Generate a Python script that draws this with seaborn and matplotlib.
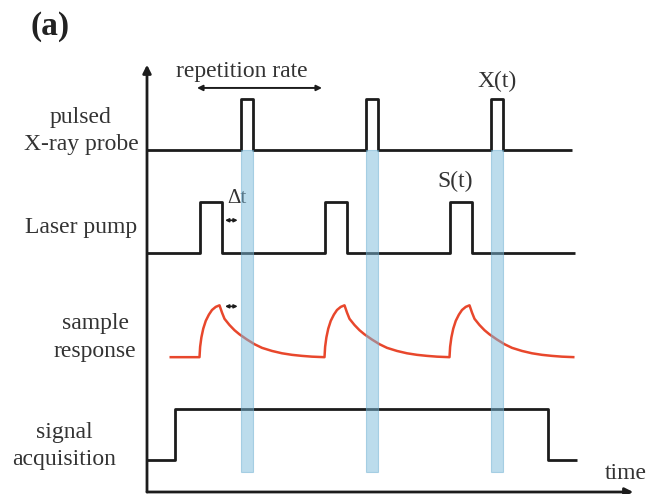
import matplotlib
matplotlib.use("Agg")
import matplotlib.pyplot as plt
import pandas as pd
import seaborn as sns

# ---- timing of the pulse trains (arbitrary time units, period = 10) ----
probe_starts = [7.5, 17.5, 27.5]      # X-ray probe pulse onsets
probe_width = 1.0
probe_end = 34.0

pump_starts = [4.2, 14.2, 24.2]       # laser pump pulse onsets
pump_width = 1.8
pump_end = 34.2

# sample response for one cycle: time after pump onset, relative amplitude
resp_offsets = [0.0, 0.05, 0.15, 0.30, 0.50, 0.75, 1.00, 1.30, 1.60,
                1.80, 2.00, 2.40, 2.80, 3.20, 3.80, 4.40, 5.00, 5.80,
                6.60, 7.40, 8.20, 9.00, 10.0]
resp_levels = [0.0, 0.20, 0.38, 0.55, 0.70, 0.82, 0.91, 0.97, 1.00,
               0.86, 0.74, 0.62, 0.52, 0.44, 0.34, 0.25, 0.18, 0.12,
               0.075, 0.045, 0.025, 0.01, 0.0]
resp_start = 1.8

# detector gate
acq_on, acq_off, acq_end = 2.2, 32.1, 34.4

# lanes (bottom to top) and their resting levels
lane_labels = ["signal\nacquisition", "sample\nresponse", "Laser pump", "pulsed\nX-ray probe"]
lane_base = [0.31, 1.30, 2.30, 3.30]
pulse_height = 0.50

# repetition period marker and time span of the axes
rep_from, rep_to = 4.0, 14.0
band_bottom = 0.19
y_axis_top = 4.12
x_axis_end = 38.9

BLACK = "#1c1c1c"
RED = "#e8472c"
BLUE = "#7bbadb"
TEXT = "#333333"


def pulse_train(starts, width, end, base, height):
    xs, ys = [0.0], [base]
    for s in starts:
        xs += [s, s, s + width, s + width]
        ys += [base, base + height, base + height, base]
    xs.append(end)
    ys.append(base)
    return pd.DataFrame({"t": xs, "level": ys})


def response_trace(starts, base, height):
    xs, ys = [resp_start], [base]
    for s in starts:
        for dt, v in zip(resp_offsets, resp_levels):
            xs.append(s + dt)
            ys.append(base + height * v)
    return pd.DataFrame({"t": xs, "level": ys})


def gate_trace(base, height):
    xs = [0.0, acq_on, acq_on, acq_off, acq_off, acq_end]
    ys = [base, base, base + height, base + height, base, base]
    return pd.DataFrame({"t": xs, "level": ys})


sns.set_style("white")
plt.rcParams["font.family"] = ["Liberation Serif", "DejaVu Serif"]

fig = plt.figure(figsize=(6.48, 4.94), dpi=100)
ax = fig.add_axes([0, 0, 1, 1])
ax.set_xlim(-11.76, 40.08)
ax.set_ylim(-0.0193, 4.744)
ax.axis("off")

acq_df = gate_trace(lane_base[0], pulse_height - 0.01)
resp_df = response_trace(pump_starts, lane_base[1], pulse_height)
pump_df = pulse_train(pump_starts, pump_width, pump_end, lane_base[2], pulse_height)
probe_df = pulse_train(probe_starts, probe_width, probe_end, lane_base[3], pulse_height - 0.01)

line_kw = dict(x="t", y="level", sort=False, estimator=None, ax=ax, legend=False)
for df in (acq_df, pump_df, probe_df):
    sns.lineplot(data=df, color=BLACK, lw=2.0, **line_kw)
sns.lineplot(data=resp_df, color=RED, lw=1.8, **line_kw)
for ln in ax.lines:
    ln.set_solid_joinstyle("round")
    ln.set_solid_capstyle("butt")

# probe windows carried down through all lanes
ax.bar(probe_starts, lane_base[3] - band_bottom, bottom=band_bottom,
       width=probe_width, align="edge", color=BLUE, alpha=0.5,
       edgecolor="#6fb0d2", linewidth=0.8, zorder=5)

# axes arrows
arrow = dict(arrowstyle="-|>", color=BLACK, lw=2.0, shrinkA=0, shrinkB=0,
             mutation_scale=12)
ax.annotate("", xy=(0, y_axis_top), xytext=(0, 0), arrowprops=arrow)
ax.annotate("", xy=(x_axis_end, 0), xytext=(0, 0), arrowprops=arrow)

# repetition period
ax.annotate("", xy=(rep_to, 3.896), xytext=(rep_from, 3.896),
            arrowprops=dict(arrowstyle="<|-|>", color=BLACK, lw=1.4,
                            shrinkA=0, shrinkB=0, mutation_scale=8))
ax.text(7.6, 4.05, "repetition rate", ha="center", va="center",
        fontsize=17, color=TEXT)

# pump-probe delay
dt_from = pump_starts[0] + pump_width
dt_to = probe_starts[0]
for yy in (2.62, 1.79):
    ax.annotate("", xy=(dt_to, yy), xytext=(dt_from, yy),
                arrowprops=dict(arrowstyle="<|-|>", color=BLACK, lw=1.2,
                                shrinkA=2.2, shrinkB=2.2, mutation_scale=5))
ax.text(7.2, 2.83, "\u0394t", ha="center", va="center", fontsize=15, color=TEXT)

ax.text(28.0, 3.963, "X(t)", ha="center", va="center", fontsize=17, color=TEXT)
ax.text(24.64, 2.99, "S(t)", ha="center", va="center", fontsize=17, color=TEXT)
ax.text(39.95, 0.183, "time", ha="right", va="center", fontsize=17, color=TEXT)

# lane labels
label_pos = [(-6.64, 0.445), (-4.16, 1.49), (-5.28, 2.546), (-5.28, 3.48)]
for (lx, ly), lab in zip(label_pos, lane_labels):
    ax.text(lx, ly, lab, ha="center", va="center", fontsize=17,
            color=TEXT, linespacing=1.4)

ax.text(-7.76, 4.49, "(a)", ha="center", va="center", fontsize=24,
        fontweight="bold", color="#222222")

fig.savefig("out.png", dpi=100)
